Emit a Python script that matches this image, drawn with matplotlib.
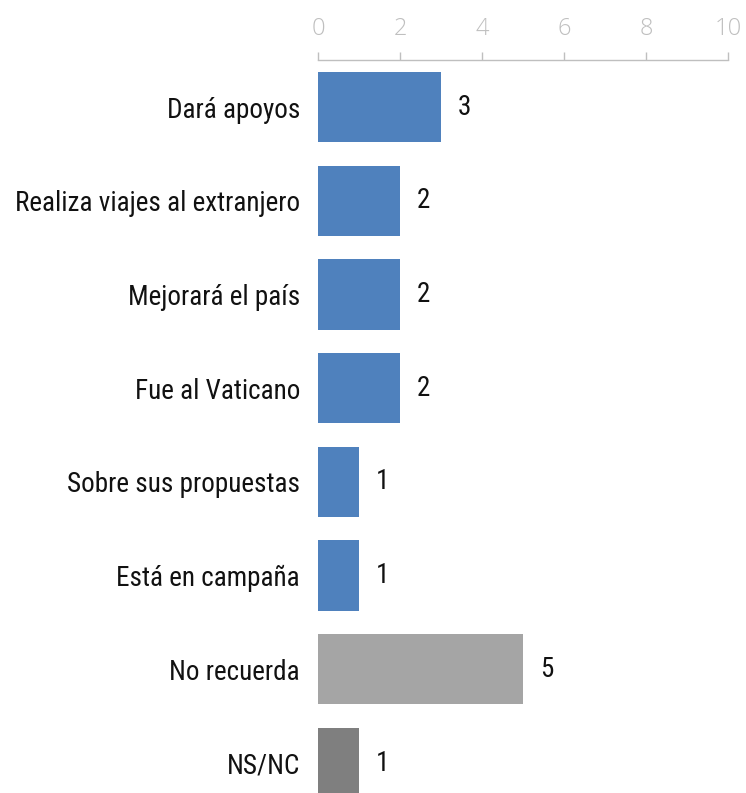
import matplotlib
matplotlib.use("Agg")
import matplotlib.pyplot as plt
from matplotlib import font_manager as fm

categories = ["Dará apoyos", "Realiza viajes al extranjero", "Mejorará el país",
              "Fue al Vaticano", "Sobre sus propuestas", "Está en campaña",
              "No recuerda", "NS/NC"]
values = [3, 2, 2, 2, 1, 1, 5, 1]
colors = ["#4F81BD"] * 6 + ["#A5A5A5", "#7F7F7F"]
xticks = [0, 2, 4, 6, 8, 10]

def pick(names):
    for n in names:
        try:
            fm.findfont(fm.FontProperties(family=n), fallback_to_default=False)
            return n
        except Exception:
            pass
    return "DejaVu Sans"

label_font = pick(["Roboto Condensed", "Liberation Sans Narrow", "Roboto"])
tick_font = pick(["Open Sans", "Noto Sans", "DejaVu Sans"])

fig = plt.figure(figsize=(7.46, 7.93), dpi=100)
ax = fig.add_axes([318/746, 0, 410/746, 1 - 60/793])
y = list(range(len(categories)))
ax.barh(y, values, height=0.75, color=colors)
ax.set_xlim(0, 10)
ax.set_ylim(7.32, -0.503)
ax.set_yticks(y)
ax.set_yticklabels(categories, fontsize=19.5, family=label_font, color="#111111")
ax.tick_params(axis="y", length=0, pad=13)
ax.xaxis.tick_top()
ax.set_xticks(xticks)
ax.set_xticklabels([str(t) for t in xticks], fontsize=17, family=tick_font,
                   color="#BFBFBF", fontweight="light")
ax.tick_params(axis="x", length=6, width=1, color="#BFBFBF", pad=8)
for s in ["left", "right", "bottom"]:
    ax.spines[s].set_visible(False)
ax.spines["top"].set_color("#BFBFBF")
ax.spines["top"].set_linewidth(1)
for yi, v in zip(y, values):
    ax.annotate(str(v), (v, yi), xytext=(12, 0), textcoords="offset points",
                va="center", ha="left", fontsize=19.5, family=label_font, color="#111111")
fig.savefig("out.png", dpi=100)
